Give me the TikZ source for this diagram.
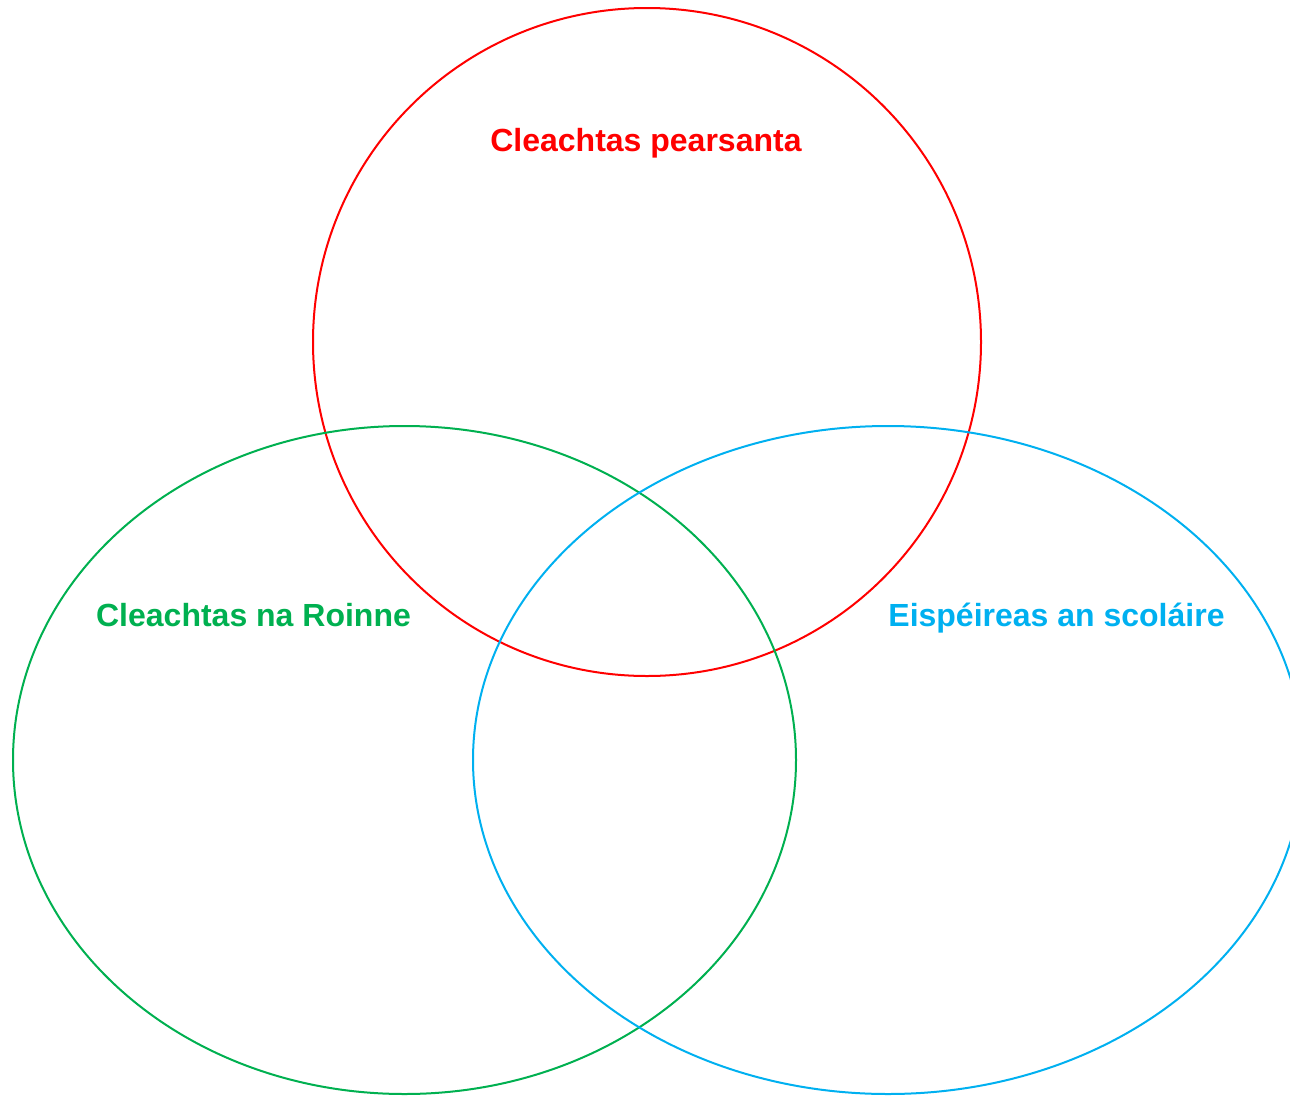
\documentclass[tikz,border=0pt]{standalone}
\usepackage{fontspec}
\setmainfont{Liberation Sans}
\definecolor{vred}{HTML}{FF0000}
\definecolor{vgreen}{HTML}{00B050}
\definecolor{vblue}{HTML}{00B0F0}
\begin{document}
\begin{tikzpicture}[x=1pt,y=-1pt,
  ring/.style={line width=2pt},
  lbl/.style={anchor=base,inner sep=0pt,font=\fontsize{32}{38}\selectfont\bfseries}]
\useasboundingbox (0,0) rectangle (1290,1095);
\coordinate (cr) at (647,342);
\coordinate (cg) at (404.5,760);
\coordinate (cb) at (888,760);
\draw[ring,vred] (cr) ellipse [x radius=334, y radius=334];
\draw[ring,vgreen] (cg) ellipse [x radius=391.5, y radius=334];
\draw[ring,vblue] (cb) ellipse [x radius=415, y radius=334];
\node[lbl,text=vred] (tr) at (646,151) {Cleachtas pearsanta};
\node[lbl,text=vgreen] (tg) at (253.5,626) {Cleachtas na Roinne};
\node[lbl,text=vblue] (tb) at (1056.5,626) {Eispéireas an scoláire};
\end{tikzpicture}
\end{document}
